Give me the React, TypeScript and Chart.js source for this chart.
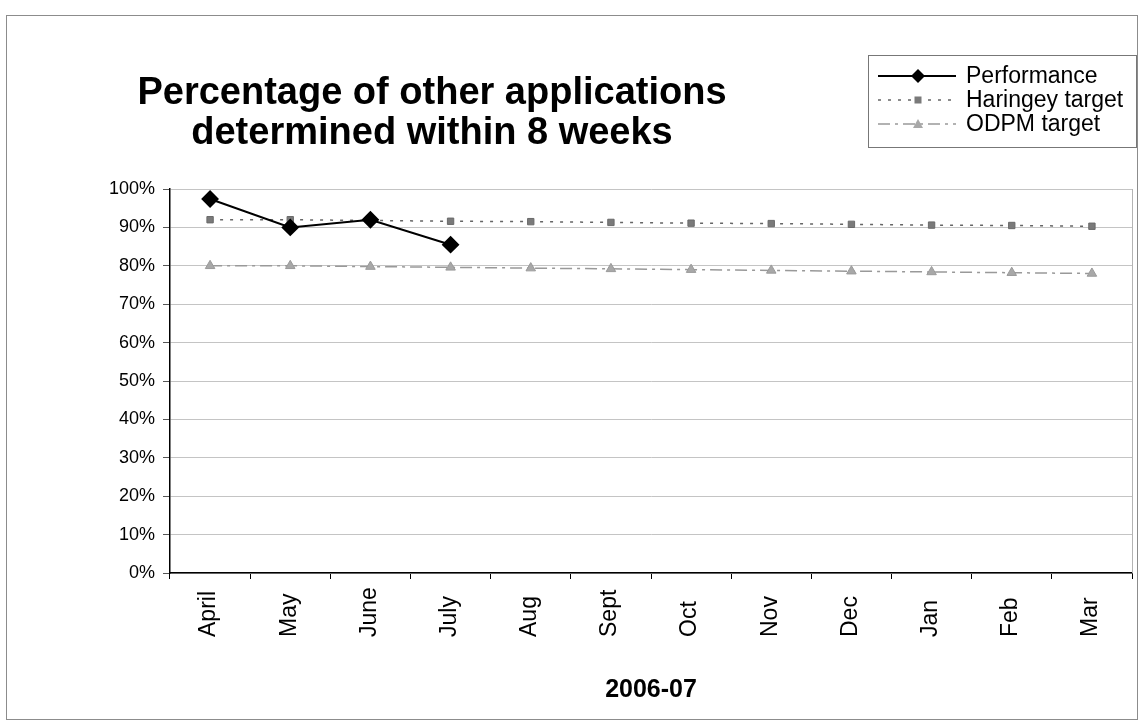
import { useEffect, useRef } from "react";
import { Chart, registerables } from "chart.js";

Chart.register(...registerables);

const months = ["April", "May", "June", "July", "Aug", "Sept", "Oct", "Nov", "Dec", "Jan", "Feb", "Mar"];
const performance = [97.4, 90, 92, 85.5, null, null, null, null, null, null, null, null];
const haringeyTarget = [92, 92, 91.8, 91.6, 91.5, 91.3, 91.1, 91, 90.8, 90.6, 90.5, 90.3];
const odpmTarget = [80, 80, 79.8, 79.6, 79.4, 79.2, 79, 78.8, 78.6, 78.4, 78.2, 78];
const seriesNames = ["Performance", "Haringey target", "ODPM target"];
const titleLines = ["Percentage of other applications", "determined within 8 weeks"];
const xAxisTitle = "2006-07";

const FONT = '"Liberation Sans", Arial, Helvetica, sans-serif';

const decorations = {
  id: "decorations",
  beforeDraw(chart: any) {
    const ctx = chart.ctx;
    ctx.save();
    ctx.fillStyle = "#ffffff";
    ctx.fillRect(0, 0, chart.width, chart.height);
    ctx.restore();
  },
  afterDraw(chart: any) {
    const ctx = chart.ctx;
    const { right, top, bottom } = chart.chartArea;
    ctx.save();
    // outer border
    ctx.strokeStyle = "#8c8c8c";
    ctx.lineWidth = 1;
    ctx.strokeRect(6.5, 15.5, 1131, 704);
    // plot area right border
    ctx.strokeStyle = "#b4b4b4";
    ctx.beginPath();
    ctx.moveTo(Math.round(right) + 0.5, top);
    ctx.lineTo(Math.round(right) + 0.5, bottom);
    ctx.stroke();

    // x category labels (rotated, aligned at their start like the original)
    const xs = chart.scales.x;
    ctx.fillStyle = "#000";
    ctx.font = `23px ${FONT}`;
    ctx.textAlign = "left";
    ctx.textBaseline = "middle";
    months.forEach((m, i) => {
      const px = xs.getPixelForValue(i);
      ctx.save();
      ctx.translate(px - 1, bottom + 64);
      ctx.rotate(-Math.PI / 2);
      ctx.fillText(m, 0, 0);
      ctx.restore();
    });

    // title
    ctx.fillStyle = "#000";
    ctx.font = `bold 38px ${FONT}`;
    ctx.textAlign = "center";
    ctx.textBaseline = "alphabetic";
    ctx.fillText(titleLines[0], 432, 104);
    ctx.fillText(titleLines[1], 432, 144);

    // legend
    ctx.strokeStyle = "#777";
    ctx.lineWidth = 1;
    ctx.strokeRect(868.5, 55.5, 268, 92);
    const rows = [76, 100, 124];
    const x0 = 878, x1 = 956, mx = 918;
    ctx.font = `23px ${FONT}`;
    ctx.textAlign = "left";
    ctx.textBaseline = "middle";
    rows.forEach((y, i) => {
      ctx.save();
      ctx.beginPath();
      if (i === 0) {
        ctx.strokeStyle = "#000";
        ctx.lineWidth = 2;
        ctx.setLineDash([]);
      } else if (i === 1) {
        ctx.strokeStyle = "#666";
        ctx.lineWidth = 1.5;
        ctx.setLineDash([3, 7]);
      } else {
        ctx.strokeStyle = "#999";
        ctx.lineWidth = 1.5;
        ctx.setLineDash([12, 5, 3, 5]);
      }
      ctx.moveTo(x0, y);
      ctx.lineTo(x1, y);
      ctx.stroke();
      ctx.setLineDash([]);
      ctx.beginPath();
      if (i === 0) {
        ctx.fillStyle = "#000";
        ctx.moveTo(mx, y - 7);
        ctx.lineTo(mx + 7, y);
        ctx.lineTo(mx, y + 7);
        ctx.lineTo(mx - 7, y);
        ctx.closePath();
        ctx.fill();
      } else if (i === 1) {
        ctx.fillStyle = "#7a7a7a";
        ctx.fillRect(mx - 3.5, y - 3.5, 7, 7);
      } else {
        ctx.fillStyle = "#a8a8a8";
        ctx.moveTo(mx, y - 5);
        ctx.lineTo(mx + 5, y + 4);
        ctx.lineTo(mx - 5, y + 4);
        ctx.closePath();
        ctx.fill();
      }
      ctx.restore();
      ctx.fillStyle = "#000";
      ctx.fillText(seriesNames[i], 966, y + 1);
    });
    ctx.restore();
  },
};

export default function App() {
  const canvasRef = useRef<HTMLCanvasElement | null>(null);

  useEffect(() => {
    if (!canvasRef.current) return;
    const chart = new Chart(canvasRef.current, {
      type: "line",
      data: {
        labels: months,
        datasets: [
          {
            label: seriesNames[0],
            data: performance,
            borderColor: "#000",
            backgroundColor: "#000",
            borderWidth: 2,
            pointStyle: "rectRot",
            pointRadius: 7.5,
            pointBackgroundColor: "#000",
            pointBorderColor: "#000",
            spanGaps: false,
            tension: 0,
            order: 0,
          },
          {
            label: seriesNames[1],
            data: haringeyTarget,
            borderColor: "#666",
            borderWidth: 1.5,
            borderDash: [3, 7],
            pointStyle: "rect",
            pointRadius: 4.5,
            pointBackgroundColor: "#7a7a7a",
            pointBorderColor: "#6a6a6a",
            pointBorderWidth: 1,
            tension: 0,
            order: 1,
          },
          {
            label: seriesNames[2],
            data: odpmTarget,
            borderColor: "#999",
            borderWidth: 1.5,
            borderDash: [12, 5, 3, 5],
            pointStyle: "triangle",
            pointRadius: 5.5,
            pointBackgroundColor: "#a8a8a8",
            pointBorderColor: "#9a9a9a",
            pointBorderWidth: 1,
            tension: 0,
            order: 2,
          },
        ],
      },
      options: {
        responsive: false,
        animation: false,
        layout: { padding: { left: 110, right: 10, top: 189, bottom: 0 } },
        plugins: {
          legend: { display: false },
          title: { display: false },
          tooltip: { enabled: false },
        },
        scales: {
          x: {
            offset: true,
            grid: {
              offset: true,
              drawOnChartArea: false,
              color: "#000",
              tickLength: 6,
            },
            border: { color: "#000", width: 1.5 },
            ticks: {
              display: false,
              autoSkip: false,
            },
            title: {
              display: true,
              text: xAxisTitle,
              color: "#000",
              font: { size: 25, weight: "bold", family: FONT },
              padding: { top: 0, bottom: 18 },
            },
            afterFit: (s: any) => {
              s.height = 150;
            },
          },
          y: {
            min: 0,
            max: 100,
            ticks: {
              stepSize: 10,
              color: "#000",
              padding: 8,
              font: { size: 18, family: FONT },
              callback: (v: any) => v + "%",
            },
            grid: {
              color: "#c4c4c4",
              tickColor: "#555",
              tickLength: 7,
              lineWidth: 1,
            },
            border: { color: "#000", width: 1.5 },
            afterFit: (s: any) => {
              s.width = 60;
            },
          },
        },
      },
      plugins: [decorations],
    });
    return () => chart.destroy();
  }, []);

  return (
    <div style={{ position: "absolute", left: 0, top: 0, width: 1142, height: 723 }}>
      <canvas ref={canvasRef} width={1142} height={723} />
    </div>
  );
}
